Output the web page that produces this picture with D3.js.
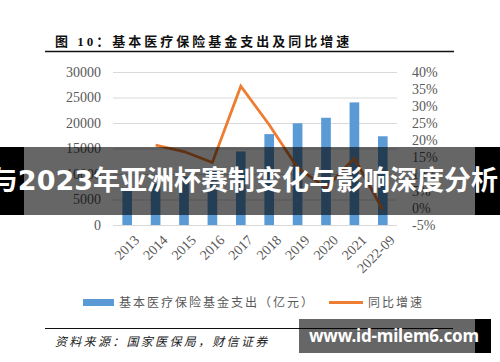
<!DOCTYPE html>
<html>
<head>
<meta charset="utf-8">
<script src="https://cdn.jsdelivr.net/npm/d3@7"></script>
<style>
  body { margin: 0; background: #fff; }
  svg { display: block; }
</style>
</head>
<body>
<script>
// chart data
const years = ["2013", "2014", "2015", "2016", "2017", "2018", "2019", "2020", "2021", "2022-09"];
const spending = [6870, 8130, 9480, 10767, 14422, 17822, 19946, 21032, 24043, 17400];
const growth = [null, 18.5, 16.6, 13.4, 35.8, 24.5, 11.8, 6.0, 14.6, -0.5];
const leftTicks = [0, 5000, 10000, 15000, 20000, 25000, 30000];
const rightTicks = [-5, 0, 5, 10, 15, 20, 25, 30, 35, 40];

const w = 500, h = 362;
const plot = { left: 113, right: 397, top: 72, bottom: 225 };
const serif = "'Liberation Serif', 'Noto Sans CJK SC', serif";
const grey = "#595959";

const svg = d3.select("body").append("svg")
    .attr("width", w)
    .attr("height", h);

//title and rule
svg.append("text")
    .attr("x", 55).attr("y", 46)
    .style("font-family", serif)
    .style("font-size", "13px")
    .style("font-weight", "bold")
    .style("letter-spacing", "3px")
    .style("fill", "#111")
    .text("图 10：基本医疗保险基金支出及同比增速");

svg.append("line")
    .attr("x1", 45).attr("x2", 454)
    .attr("y1", 51.5).attr("y2", 51.5)
    .style("stroke", "#111").style("stroke-width", 1.5);

//scales
const x = d3.scaleBand().domain(years).range([plot.left, plot.right]);
const yL = d3.scaleLinear().domain([0, 30000]).range([plot.bottom, plot.top]);
const yR = d3.scaleLinear().domain([-5, 40]).range([plot.bottom, plot.top]);

//left axis with gridlines
const leftAxis = svg.append("g")
    .attr("transform", `translate(${plot.left},0)`)
    .call(d3.axisLeft(yL).tickValues(leftTicks).tickFormat(d3.format("d"))
        .tickSizeInner(-(plot.right - plot.left)).tickSizeOuter(0).tickPadding(12));
leftAxis.select(".domain").remove();
leftAxis.selectAll("line").style("stroke", "#d9d9d9");
leftAxis.selectAll("text")
    .style("font-family", serif).style("font-size", "14px").style("fill", grey);

//right axis
const rightAxis = svg.append("g")
    .attr("transform", `translate(${plot.right},0)`)
    .call(d3.axisRight(yR).tickValues(rightTicks).tickSize(0).tickPadding(15)
        .tickFormat(d => d + "%"));
rightAxis.select(".domain").remove();
rightAxis.selectAll("text")
    .style("font-family", serif).style("font-size", "14px").style("fill", grey);

//bottom axis, rotated labels
const bottomAxis = svg.append("g")
    .attr("transform", `translate(0,${plot.bottom})`)
    .call(d3.axisBottom(x).tickSize(0));
bottomAxis.select(".domain").remove();
bottomAxis.selectAll("text")
    .attr("text-anchor", "end")
    .attr("transform", "translate(6,9) rotate(-45)")
    .attr("dy", "0.7em")
    .attr("y", 0)
    .style("font-family", serif).style("font-size", "14px").style("fill", grey);

//bars
const barW = x.bandwidth() * 0.34;
svg.selectAll(".bar")
    .data(spending)
    .enter()
    .append("rect")
    .attr("class", "bar")
    .attr("x", (d, i) => x(years[i]) + (x.bandwidth() - barW) / 2)
    .attr("y", d => yL(d))
    .attr("width", barW)
    .attr("height", d => plot.bottom - yL(d))
    .style("fill", "#5b9bd5");

//growth line
const line = d3.line()
    .defined(d => d[1] !== null)
    .x(d => x(d[0]) + x.bandwidth() / 2)
    .y(d => yR(d[1]));
svg.append("path")
    .datum(years.map((y, i) => [y, growth[i]]))
    .attr("d", line)
    .style("fill", "none")
    .style("stroke", "#ed7d31")
    .style("stroke-width", 2.8)
    .style("stroke-linejoin", "miter");

//legend
svg.append("rect")
    .attr("x", 83).attr("y", 299).attr("width", 31).attr("height", 7)
    .style("fill", "#5b9bd5");
svg.append("text")
    .attr("x", 119).attr("y", 307)
    .style("font-family", serif).style("font-size", "12px")
    .style("letter-spacing", "2px").style("fill", grey)
    .text("基本医疗保险基金支出（亿元）");
svg.append("line")
    .attr("x1", 329).attr("x2", 363).attr("y1", 302.5).attr("y2", 302.5)
    .style("stroke", "#ed7d31").style("stroke-width", 3);
svg.append("text")
    .attr("x", 368).attr("y", 307)
    .style("font-family", serif).style("font-size", "12px")
    .style("letter-spacing", "2px").style("fill", grey)
    .text("同比增速");

//source
svg.append("line")
    .attr("x1", 45).attr("x2", 453).attr("y1", 328.5).attr("y2", 328.5)
    .style("stroke", "#111").style("stroke-width", 1);
svg.append("text")
    .attr("x", 55).attr("y", 345.5)
    .style("font-family", serif).style("font-size", "12px")
    .style("font-style", "italic")
    .style("letter-spacing", "2.3px").style("fill", "#222")
    .text("资料来源：国家医保局，财信证券");

//overlay banner across the middle
const banner = svg.append("g");
banner.append("rect").attr("x", 0).attr("y", 147).attr("width", 24).attr("height", 68).style("fill", "#000");
banner.append("rect").attr("x", 24).attr("y", 147).attr("width", 451).attr("height", 68).style("fill", "rgba(0,0,0,0.6)");
banner.append("rect").attr("x", 475).attr("y", 147).attr("width", 25).attr("height", 68).style("fill", "#000");
banner.append("text")
    .attr("x", 498).attr("y", 190)
    .attr("text-anchor", "end")
    .style("font-family", "'DejaVu Sans', 'Noto Sans CJK SC', sans-serif")
    .style("font-size", "27px").style("font-weight", "bold")
    .style("fill", "#fff")
    .text("与2023年亚洲杯赛制变化与影响深度分析");

//watermark bottom right
const mark = svg.append("g");
mark.append("rect").attr("x", 299).attr("y", 319).attr("width", 176).attr("height", 34).style("fill", "rgba(0,0,0,0.6)");
mark.append("rect").attr("x", 475).attr("y", 319).attr("width", 16).attr("height", 34).style("fill", "#000");
mark.append("text")
    .attr("x", 309).attr("y", 342)
    .attr("textLength", 170)
    .style("font-family", "'Noto Sans', sans-serif")
    .style("font-size", "17px").style("font-weight", "bold")
    .style("fill", "#fff")
    .text("www.id-milem6.com");
</script>
</body>
</html>
